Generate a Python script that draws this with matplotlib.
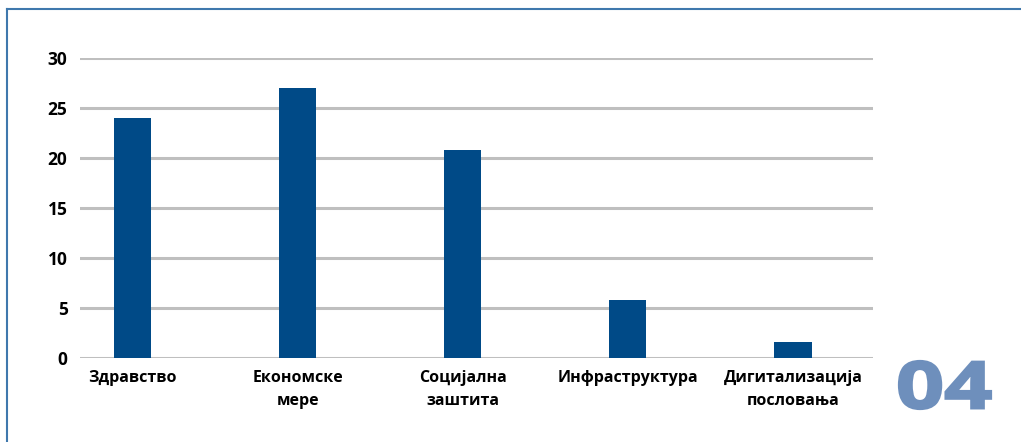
import matplotlib.pyplot as plt
from matplotlib.lines import Line2D
from matplotlib.textpath import TextPath
from matplotlib.patches import PathPatch
from matplotlib.font_manager import FontProperties
from matplotlib.transforms import Affine2D

categories = ["Здравство", "Економске\nмере", "Социјална\nзаштита", "Инфраструктура", "Дигитализација\nпословања"]
values = [24, 27, 20.8, 5.8, 1.6]
yticks = [0, 5, 10, 15, 20, 25, 30]

plt.rcParams['font.family'] = ['Open Sans', 'DejaVu Sans']

W, H = 1021, 442
fig = plt.figure(figsize=(W / 100, H / 100), dpi=100)
ax = fig.add_axes([80 / W, 1 - 358 / H, (873 - 80) / W, 300 / H])

x = range(len(categories))
ax.bar(x, values, width=0.225, color="#004a87", zorder=3)
ax.set_ylim(0, 30)
ax.set_xlim(-0.32, 4.485)
ax.set_yticks(yticks)
ax.set_xticks(list(x))
ax.set_xticklabels(categories, fontweight="bold", fontsize=11.5, linespacing=1.55)
ax.tick_params(axis="y", length=0, pad=9, labelsize=12.5)
ax.tick_params(axis="x", length=0, pad=9)
for lbl in ax.get_yticklabels():
    lbl.set_fontweight("bold")
ax.grid(axis="y", color="#bfbfbf", linewidth=2.2, zorder=0)
for s in ax.spines.values():
    s.set_visible(False)

# frame around the panel
fig.add_artist(Line2D([7 / W, 1], [1 - 9 / H, 1 - 9 / H], color="#3f78ad", linewidth=1.5))
fig.add_artist(Line2D([7 / W, 7 / W], [0, 1 - 9 / H], color="#3f78ad", linewidth=1.5))

# big section number, stretched to look like a wide geometric face
tp = TextPath((0, 0), "04", size=1, prop=FontProperties(family="Open Sans", weight="bold"))
bb = tp.get_extents()
sx = 92 / bb.width
sy = 48 / bb.height
tr = Affine2D().translate(-bb.x0, -bb.y0).scale(sx, sy).translate(899, H - 409)
fig.add_artist(PathPatch(tr.transform_path(tp), facecolor="#6e8fbc", edgecolor="#6e8fbc",
                         linewidth=1.6, transform=None))

fig.savefig("out.png", dpi=100)
